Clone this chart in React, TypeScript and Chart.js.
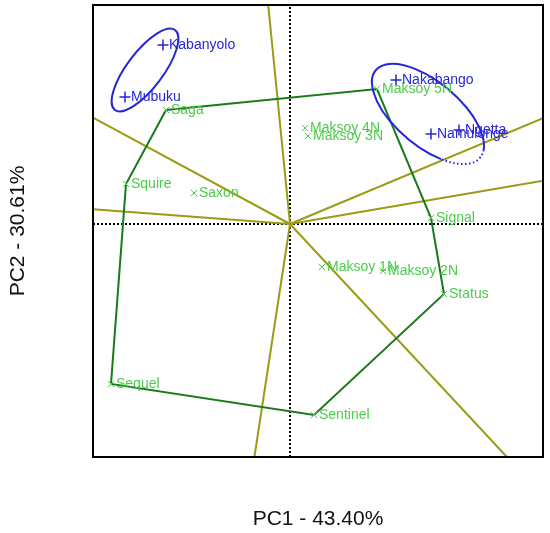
import { useEffect, useRef } from "react";
import { Chart, registerables } from "chart.js";

Chart.register(...registerables);

// ---- data (PC scores) ----
const genotypes = ["Saga", "Squire", "Saxon", "Sequel", "Sentinel", "Status", "Signal", "Maksoy 1N", "Maksoy 2N", "Maksoy 3N", "Maksoy 4N", "Maksoy 5N"];
const genoPC1 = [-2.48, -3.28, -1.92, -3.58, 0.48, 3.08, 2.82, 0.64, 1.86, 0.36, 0.30, 1.74];
const genoPC2 = [2.28, 0.80, 0.62, -3.20, -3.82, -1.40, 0.12, -0.86, -0.94, 1.76, 1.92, 2.70];

const environments = ["Kabanyolo", "Mubuku", "Nakabango", "Namulonge", "Ngetta"];
const envPC1 = [-2.54, -3.30, 2.12, 2.82, 3.38];
const envPC2 = [3.58, 2.54, 2.88, 1.80, 1.88];

// polygon (which-won-where hull) vertex order
const hullOrder = ["Saga", "Maksoy 5N", "Signal", "Status", "Sentinel", "Sequel", "Squire"];

// mega-environment ellipses
const ellipseCX = [-2.90, 2.76];
const ellipseCY = [3.08, 2.20];
const ellipseA = [1.0, 1.36];
const ellipseB = [0.36, 0.64];
const ellipseAngle = [53, -40];
const ellipseDottedFrom = [null, -15];
const ellipseDottedTo = [null, 55];

const xMin = -3.94, xMax = 5.06, yMin = -4.66, yMax = 4.38;
const xTitle = "PC1 - 43.40%";
const yTitle = "PC2 - 30.61%";

const GREEN_TXT = "#4ccc4c";
const BLUE = "#2626d8";
const HULL = "#1a7a1a";
const OLIVE = "#9b9b14";
const FONT = '"Liberation Sans", Arial, sans-serif';

function rayEnd(ax: number, ay: number, bx: number, by: number) {
  const dx = bx - ax, dy = by - ay;
  const t = -(ax * dx + ay * dy) / (dx * dx + dy * dy);
  const fx = ax + t * dx, fy = ay + t * dy;
  const cands: number[] = [];
  if (fx > 0) cands.push(xMax / fx);
  if (fx < 0) cands.push(xMin / fx);
  if (fy > 0) cands.push(yMax / fy);
  if (fy < 0) cands.push(yMin / fy);
  const s = Math.min(...cands);
  return { x: fx * s, y: fy * s };
}

export default function App() {
  const ref = useRef<HTMLCanvasElement | null>(null);
  useEffect(() => {
    if (!ref.current) return;
    const hullPts = hullOrder.map((n) => {
      const i = genotypes.indexOf(n);
      return { x: genoPC1[i], y: genoPC2[i] };
    });
    const closed = [...hullPts, hullPts[0]];
    const rays = hullPts.map((p, i) => {
      const q = hullPts[(i + 1) % hullPts.length];
      return [{ x: 0, y: 0 }, rayEnd(p.x, p.y, q.x, q.y)];
    });

    const lineDs = (data: any[], color: string, width: number, order: number, dash: number[] = []) => ({
      data,
      showLine: true,
      borderColor: color,
      borderWidth: width,
      borderDash: dash,
      pointRadius: 0,
      pointHoverRadius: 0,
      fill: false,
      order,
    });

    const labelPlugin = {
      id: "biplotExtras",
      afterDatasetsDraw(chart: any) {
        const { ctx, chartArea, scales } = chart;
        const sx = scales.x, sy = scales.y;
        const ppu = (sx.getPixelForValue(1) - sx.getPixelForValue(0));
        ctx.save();
        ctx.beginPath();
        ctx.rect(chartArea.left, chartArea.top, chartArea.right - chartArea.left, chartArea.bottom - chartArea.top);
        ctx.clip();
        // ellipses
        ellipseCX.forEach((cx, i) => {
          const px = sx.getPixelForValue(cx), py = sy.getPixelForValue(ellipseCY[i]);
          const rot = (-ellipseAngle[i] * Math.PI) / 180;
          ctx.strokeStyle = BLUE;
          ctx.lineWidth = 2;
          const f = ellipseDottedFrom[i], t = ellipseDottedTo[i];
          if (f === null || t === null) {
            ctx.setLineDash([]);
            ctx.beginPath();
            ctx.ellipse(px, py, ellipseA[i] * ppu, ellipseB[i] * ppu, rot, 0, Math.PI * 2);
            ctx.stroke();
          } else {
            const fr = (f * Math.PI) / 180, tr = (t * Math.PI) / 180;
            ctx.setLineDash([]);
            ctx.beginPath();
            ctx.ellipse(px, py, ellipseA[i] * ppu, ellipseB[i] * ppu, rot, tr, fr + Math.PI * 2);
            ctx.stroke();
            ctx.setLineDash([1.5, 2.5]);
            ctx.beginPath();
            ctx.ellipse(px, py, ellipseA[i] * ppu, ellipseB[i] * ppu, rot, fr, tr);
            ctx.stroke();
            ctx.setLineDash([]);
          }
        });
        // labels
        ctx.font = `14px ${FONT}`;
        ctx.textAlign = "left";
        ctx.textBaseline = "middle";
        ctx.fillStyle = GREEN_TXT;
        genotypes.forEach((g, i) => {
          ctx.fillText(g, sx.getPixelForValue(genoPC1[i]) + 5, sy.getPixelForValue(genoPC2[i]));
        });
        ctx.fillStyle = BLUE;
        environments.forEach((e, i) => {
          ctx.fillText(e, sx.getPixelForValue(envPC1[i]) + 6, sy.getPixelForValue(envPC2[i]));
        });
        ctx.restore();
        // frame
        ctx.save();
        ctx.strokeStyle = "#000";
        ctx.lineWidth = 2;
        ctx.strokeRect(chartArea.left, chartArea.top, chartArea.right - chartArea.left, chartArea.bottom - chartArea.top);
        ctx.restore();
      },
    };

    const chart = new Chart(ref.current, {
      type: "scatter",
      data: {
        datasets: [
          {
            label: "Environments",
            data: envPC1.map((x, i) => ({ x, y: envPC2[i] })),
            pointStyle: "cross",
            pointRadius: 5.5,
            borderColor: BLUE,
            backgroundColor: BLUE,
            borderWidth: 1.5,
            order: 1,
          },
          {
            label: "Genotypes",
            data: genoPC1.map((x, i) => ({ x, y: genoPC2[i] })),
            pointStyle: "crossRot",
            pointRadius: 4.5,
            borderColor: GREEN_TXT,
            backgroundColor: GREEN_TXT,
            borderWidth: 1,
            order: 2,
          },
          { label: "hull", ...lineDs(closed, HULL, 2, 3) },
          ...rays.map((r, i) => ({ label: "ray" + i, ...lineDs(r, OLIVE, 2, 4) })),
          { label: "h0", ...lineDs([{ x: xMin, y: 0 }, { x: xMax, y: 0 }], "#000", 2, 6, [2, 2]) },
          { label: "v0", ...lineDs([{ x: 0, y: yMin }, { x: 0, y: yMax }], "#000", 2, 6, [2, 2]) },
        ] as any,
      },
      options: {
        responsive: false,
        animation: false,
        devicePixelRatio: 1,
        layout: { autoPadding: false, padding: { top: 5, right: 7, left: 0, bottom: 0 } },
        plugins: { legend: { display: false }, tooltip: { enabled: false } },
        events: [],
        scales: {
          x: {
            type: "linear",
            min: xMin,
            max: xMax,
            grid: { display: false, drawTicks: false, tickLength: 0 },
            border: { display: false },
            ticks: { display: false },
            title: { display: true, text: xTitle, color: "#111", font: { family: FONT, size: 21 }, padding: { top: 49.4, bottom: 1.4 } },
          },
          y: {
            type: "linear",
            min: yMin,
            max: yMax,
            grid: { display: false, drawTicks: false, tickLength: 0 },
            border: { display: false },
            ticks: { display: false },
            title: { display: true, text: yTitle, color: "#111", font: { family: FONT, size: 21 }, padding: { top: 5.4, bottom: 62.4 } },
          },
        },
      } as any,
      plugins: [labelPlugin],
    });
    return () => chart.destroy();
  }, []);

  return (
    <div style={{ position: "fixed", left: 0, top: 0, width: 550, height: 533, background: "#fff" }}>
      <canvas ref={ref} width={550} height={533} style={{ display: "block" }} />
    </div>
  );
}
